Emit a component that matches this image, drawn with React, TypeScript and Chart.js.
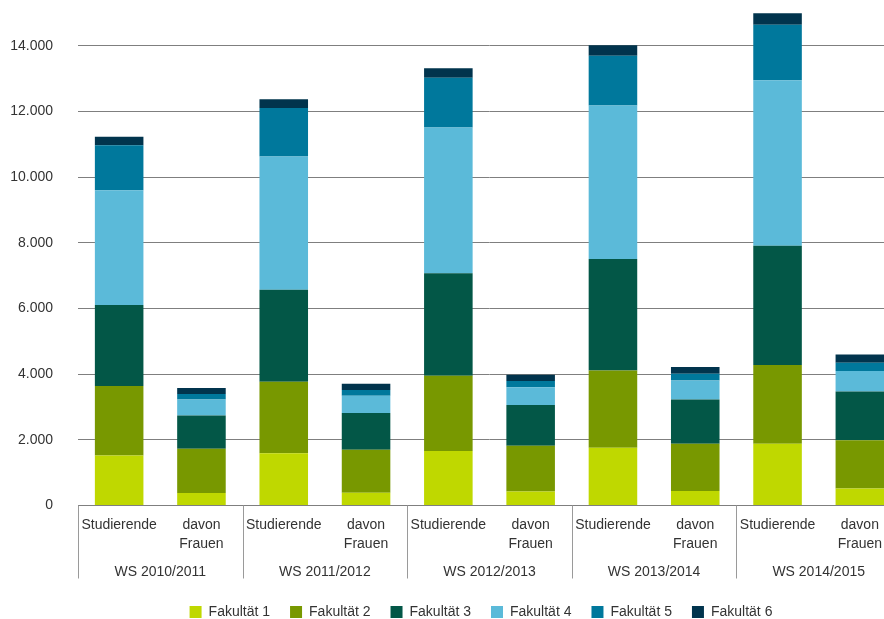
import React, { useEffect, useRef } from "react";
import { Chart, registerables } from "chart.js";

Chart.register(...registerables);

const groups = ["WS 2010/2011", "WS 2011/2012", "WS 2012/2013", "WS 2013/2014", "WS 2014/2015"];
const subCategories: string[][] = [["Studierende"], ["davon", "Frauen"]];
const categories = groups.flatMap(() => subCategories);

const seriesNames = ["Fakultät 1", "Fakultät 2", "Fakultät 3", "Fakultät 4", "Fakultät 5", "Fakultät 6"];
const seriesColors = ["#BFD800", "#789800", "#035747", "#5BBAD9", "#00789C", "#01344D"];

const fakultaet1 = [1520, 380, 1590, 390, 1660, 430, 1760, 440, 1880, 520];
const fakultaet2 = [2120, 1345, 2180, 1310, 2290, 1390, 2350, 1440, 2400, 1470];
const fakultaet3 = [2470, 1015, 2800, 1120, 3120, 1240, 3400, 1350, 3630, 1480];
const fakultaet4 = [3490, 490, 4060, 520, 4440, 540, 4670, 580, 5040, 630];
const fakultaet5 = [1370, 165, 1480, 180, 1520, 190, 1520, 200, 1690, 250];
const fakultaet6 = [260, 185, 260, 190, 290, 190, 320, 210, 350, 250];
const seriesValues = [fakultaet1, fakultaet2, fakultaet3, fakultaet4, fakultaet5, fakultaet6];

const yTickValues = [0, 2000, 4000, 6000, 8000, 10000, 12000, 14000];
const yMax = 15000;

const FONT = "'Liberation Sans', Arial, sans-serif";
const TEXT = "#333333";
const GRID = "#7f7f7f";

function formatDe(v: number): string {
  return String(Math.round(v)).replace(/\B(?=(\d{3})+(?!\d))/g, ".");
}

const groupPlugin = {
  id: "groupLabels",
  afterDraw(chart: any) {
    const x = chart.scales.x;
    const ctx = chart.ctx;
    const step = x.getPixelForValue(1) - x.getPixelForValue(0);
    const top = chart.chartArea.bottom;
    ctx.save();
    ctx.strokeStyle = "#9a9a9a";
    ctx.lineWidth = 1;
    for (let g = 0; g <= groups.length; g++) {
      const px = Math.round(x.getPixelForValue(g * 2) - step / 2) + 0.5;
      ctx.beginPath();
      ctx.moveTo(px, top);
      ctx.lineTo(px, top + 73);
      ctx.stroke();
    }
    ctx.fillStyle = TEXT;
    ctx.font = `14px ${FONT}`;
    ctx.textAlign = "center";
    ctx.textBaseline = "middle";
    groups.forEach((g, i) => {
      const cx = (x.getPixelForValue(i * 2) + x.getPixelForValue(i * 2 + 1)) / 2;
      ctx.fillText(g, cx, top + 67);
    });
    ctx.restore();
  },
};

export default function App() {
  const ref = useRef<HTMLCanvasElement | null>(null);

  useEffect(() => {
    if (!ref.current) return;
    const chart = new Chart(ref.current, {
      type: "bar",
      data: {
        labels: categories,
        datasets: seriesNames.map((name, i) => ({
          label: name,
          data: seriesValues[i],
          backgroundColor: seriesColors[i],
          borderWidth: 0,
          stack: "s",
          barPercentage: 0.59,
          categoryPercentage: 1,
        })),
      },
      options: {
        animation: false,
        responsive: true,
        maintainAspectRatio: false,
        events: [],
        layout: { padding: { top: 13, left: 0, right: 0, bottom: 0 } },
        plugins: {
          tooltip: { enabled: false },
          legend: {
            position: "bottom",
            labels: {
              boxWidth: 12,
              boxHeight: 12,
              padding: 20,
              color: TEXT,
              font: { family: FONT, size: 14 },
            },
          },
        },
        scales: {
          x: {
            stacked: true,
            grid: { display: false, drawTicks: false },
            border: { display: true, color: GRID, width: 1 },
            ticks: {
              color: TEXT,
              padding: 11,
              maxRotation: 0,
              autoSkip: false,
              font: { family: FONT, size: 14, lineHeight: 1.3 },
            },
            afterFit: (s: any) => {
              s.height = 79.5;
              s.paddingLeft = 0;
              s.paddingRight = 0;
            },
          },
          y: {
            stacked: true,
            min: 0,
            max: yMax,
            grid: { color: GRID, lineWidth: 1, drawTicks: false },
            border: { display: false },
            ticks: {
              color: TEXT,
              padding: 25,
              font: { family: FONT, size: 14 },
              callback: (v: any) => formatDe(Number(v)),
            },
            afterBuildTicks: (s: any) => {
              s.ticks = yTickValues.map((v) => ({ value: v }));
            },
            afterFit: (s: any) => {
              s.width = 78;
              s.paddingTop = 0;
              s.paddingBottom = 0;
            },
          },
          y2: {
            position: "right",
            display: true,
            grid: { display: false, drawTicks: false },
            border: { display: false },
            ticks: { display: false },
            afterFit: (s: any) => {
              s.width = 61;
              s.paddingTop = 0;
              s.paddingBottom = 0;
            },
          },
        },
      } as any,
      plugins: [groupPlugin],
    });
    return () => chart.destroy();
  }, []);

  return (
    <div
      style={{
        position: "fixed",
        left: 0,
        top: 0,
        width: 884,
        height: 619,
        overflow: "hidden",
        background: "#ffffff",
      }}
    >
      <div style={{ position: "absolute", left: 0, top: 0, width: 962, height: 629 }}>
        <canvas ref={ref} />
      </div>
    </div>
  );
}
